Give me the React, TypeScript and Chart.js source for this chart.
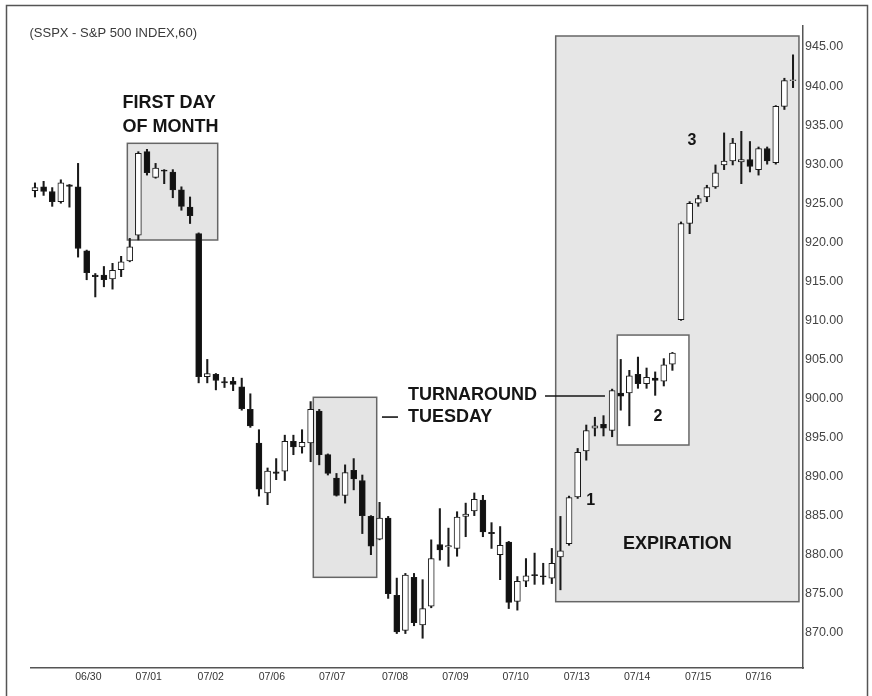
import React, { useEffect, useRef } from "react";
import { Chart, registerables } from "chart.js";

Chart.register(...registerables);

// ---- data ----
const dayLabels = ["06/30", "07/01", "07/02", "07/06", "07/07", "07/08", "07/09", "07/10", "07/13", "07/14", "07/15", "07/16"];
// bar-index position of each date label on the x axis
const dayTickPos = [6.2, 13.2, 20.4, 27.5, 34.5, 41.8, 48.8, 55.8, 62.9, 69.9, 77.0, 84.0];

const yTicks = [870, 875, 880, 885, 890, 895, 900, 905, 910, 915, 920, 925, 930, 935, 940, 945];

const opens = [
  926.6, 927.1, 926.5, 925.2, 927.35, 927.1, 918.9, 915.8, 915.8, 915.3,
  916.5, 917.6, 920.9, 931.6, 928.3, 929.25, 929.0, 926.7, 924.5, 921.1,
  902.8, 903.1, 902.15, 902.2, 901.5, 898.6, 894.3, 887.9, 890.6, 890.7,
  894.5, 893.8, 894.3, 898.4, 892.8, 889.8, 887.6, 890.8, 889.5, 884.9,
  882.0, 884.7, 874.8, 870.3, 877.1, 871.0, 873.4, 881.3, 881.0, 880.8,
  884.9, 885.6, 887.0, 882.85, 880.0, 881.6, 874.0, 876.6, 877.45, 877.3,
  877.0, 879.7, 881.4, 887.4, 893.3, 896.2, 896.7, 895.9, 900.7, 900.7,
  903.1, 901.9, 902.6, 902.2, 904.4, 910.1, 922.4, 925.0, 925.8, 927.1,
  929.9, 930.4, 930.3, 930.6, 929.3, 932.0, 930.2, 937.4, 940.7,
];
const highs = [
  927.6, 927.8, 927.0, 928.0, 927.4, 930.1, 919.0, 916.0, 916.9, 917.3,
  918.2, 920.5, 931.6, 931.9, 930.1, 929.3, 929.3, 927.1, 925.8, 921.2,
  905.0, 903.2, 902.7, 902.7, 902.6, 900.6, 896.0, 891.1, 892.3, 895.3,
  895.3, 896.0, 899.6, 898.6, 892.9, 890.4, 891.5, 892.3, 890.2, 885.0,
  886.7, 884.9, 877.0, 877.6, 877.6, 876.8, 881.9, 885.9, 883.4, 885.5,
  886.6, 887.9, 887.6, 884.1, 883.6, 881.7, 877.2, 879.5, 880.2, 878.9,
  880.8, 884.9, 887.5, 893.6, 896.6, 897.6, 897.8, 901.2, 905.0, 903.6,
  905.3, 903.9, 903.4, 905.1, 905.9, 922.6, 925.2, 926.0, 927.3, 929.9,
  934.0, 933.3, 934.2, 932.9, 932.2, 932.2, 937.5, 941.0, 944.0,
];
const lows = [
  925.8, 926.0, 924.6, 925.0, 924.5, 918.1, 915.2, 913.0, 914.3, 914.0,
  915.6, 917.5, 920.3, 928.6, 928.2, 927.5, 925.7, 924.1, 922.4, 902.0,
  902.0, 901.1, 901.4, 901.0, 898.5, 896.3, 887.5, 886.4, 889.6, 889.5,
  892.8, 893.0, 891.9, 891.5, 890.2, 887.5, 886.6, 888.3, 882.7, 880.0,
  881.9, 874.4, 869.9, 869.9, 870.9, 869.3, 873.2, 879.3, 878.5, 879.8,
  882.3, 885.0, 882.3, 880.8, 876.8, 873.1, 872.9, 875.9, 876.2, 876.2,
  876.3, 875.5, 881.2, 887.2, 892.1, 895.2, 895.2, 895.1, 898.5, 896.5,
  901.3, 901.3, 900.4, 901.6, 903.6, 910.0, 921.1, 924.6, 925.2, 926.9,
  929.3, 929.9, 927.5, 929.0, 928.6, 930.0, 930.0, 937.0, 939.8,
];
const closes = [
  927.0, 926.5, 925.2, 927.6, 927.15, 919.2, 916.1, 915.6, 915.2, 916.4,
  917.5, 919.4, 931.4, 928.9, 929.5, 929.1, 926.7, 924.6, 923.4, 902.8,
  903.2, 902.3, 902.0, 901.8, 898.7, 896.5, 888.4, 890.7, 890.4, 894.5,
  893.8, 894.4, 898.6, 892.8, 890.4, 887.6, 890.5, 889.7, 885.0, 881.1,
  884.7, 875.0, 870.1, 877.4, 871.3, 873.1, 879.5, 880.6, 881.15, 884.8,
  885.2, 887.1, 882.9, 882.7, 881.2, 873.9, 876.6, 877.3, 877.3, 877.15,
  878.9, 880.5, 887.3, 893.1, 895.9, 896.5, 896.2, 901.0, 900.3, 902.9,
  901.9, 902.7, 902.3, 904.3, 905.8, 922.4, 925.0, 925.6, 927.0, 928.9,
  930.4, 932.7, 930.6, 929.7, 932.0, 930.4, 937.4, 940.7, 940.8,
];

// annotation boxes in data units (bar index, price)
const boxX0 = [10.72, 32.31, 60.45, 67.6];
const boxX1 = [21.21, 39.67, 88.69, 75.92];
const boxY0 = [920.29, 877.1, 873.98, 894.04];
const boxY1 = [932.67, 900.15, 946.41, 908.12];
const boxFill = ["#e4e4e4", "#e4e4e4", "#e6e6e6", "#ffffff"];

const noteText = ["FIRST DAY", "OF MONTH", "TURNAROUND", "TUESDAY", "EXPIRATION", "1", "2", "3"];
const noteX = [10.15, 10.15, 43.3, 43.3, 68.26, 64.51, 72.32, 76.27];
const noteY = [937.83, 934.8, 900.44, 897.62, 881.3, 886.87, 897.67, 933.0];

const leaderX0 = [59.21, 40.28];
const leaderX1 = [66.17, 42.14];
const leaderY = [900.31, 897.62];

const TITLE = "(SSPX - S&P 500 INDEX,60)";

const idx = opens.map((_, i) => i);

const annotate = {
  id: "annotate",
  beforeDraw(chart: any) {
    const ctx = chart.ctx;
    ctx.save();
    ctx.strokeStyle = "#555";
    ctx.lineWidth = 1.5;
    ctx.strokeRect(6.5, 5.5, 861, 760);
    ctx.restore();
  },
  beforeDatasetsDraw(chart: any) {
    const { ctx, scales } = chart;
    const x = scales.x, y = scales.y;
    ctx.save();
    for (let i = 0; i < boxX0.length; i++) {
      const l = x.getPixelForValue(boxX0[i]);
      const r = x.getPixelForValue(boxX1[i]);
      const t = y.getPixelForValue(boxY1[i]);
      const b = y.getPixelForValue(boxY0[i]);
      ctx.fillStyle = boxFill[i];
      ctx.fillRect(l, t, r - l, b - t);
      ctx.strokeStyle = "#666";
      ctx.lineWidth = 1.5;
      ctx.strokeRect(l, t, r - l, b - t);
    }
    ctx.restore();
  },
  afterDatasetsDraw(chart: any) {
    const { ctx, scales } = chart;
    const x = scales.x, y = scales.y;
    ctx.save();
    ctx.fillStyle = "#151515";
    ctx.textBaseline = "middle";
    for (let i = 0; i < noteText.length; i++) {
      const single = noteText[i].length === 1;
      ctx.font = single ? "bold 16px 'Liberation Sans', Arial, sans-serif" : "bold 18px 'Liberation Sans', Arial, sans-serif";
      ctx.textAlign = single ? "center" : "left";
      ctx.fillText(noteText[i], x.getPixelForValue(noteX[i]), y.getPixelForValue(noteY[i]));
    }
    ctx.strokeStyle = "#151515";
    ctx.lineWidth = 1.6;
    for (let i = 0; i < leaderX0.length; i++) {
      const yy = y.getPixelForValue(leaderY[i]);
      ctx.beginPath();
      ctx.moveTo(x.getPixelForValue(leaderX0[i]), yy);
      ctx.lineTo(x.getPixelForValue(leaderX1[i]), yy);
      ctx.stroke();
    }
    ctx.font = "13px 'Liberation Sans', Arial, sans-serif";
    ctx.fillStyle = "#3a3a3a";
    ctx.textAlign = "left";
    ctx.fillText(TITLE, 29.5, 33);
    ctx.restore();
  },
};

export default function App() {
  const ref = useRef<HTMLCanvasElement | null>(null);

  useEffect(() => {
    if (!ref.current) return;
    const bodyColors = opens.map((o, i) => (closes[i] >= o ? "#ffffff" : "#111111"));
    const chart = new Chart(ref.current, {
      type: "bar",
      data: {
        datasets: [
          {
            label: "body",
            data: idx.map((i) => ({ x: i, y: [opens[i], closes[i]] })) as any,
            backgroundColor: bodyColors,
            borderColor: "#1a1a1a",
            borderWidth: 1,
            borderSkipped: false,
            barThickness: 6,
            grouped: false,
            order: 0,
          } as any,
          {
            label: "wick",
            data: idx.map((i) => ({ x: i, y: [lows[i], highs[i]] })) as any,
            backgroundColor: "#1a1a1a",
            borderWidth: 0,
            barThickness: 1.4,
            grouped: false,
            order: 1,
          } as any,
        ],
      },
      options: {
        animation: false,
        responsive: false,
        devicePixelRatio: 1,
        layout: { padding: { left: 31, top: 26, right: 0, bottom: 0 } },
        plugins: { legend: { display: false }, tooltip: { enabled: false }, title: { display: false } },
        scales: {
          x: {
            type: "linear",
            offset: false,
            min: -0.464,
            max: 89.16,
            grid: { display: false, drawTicks: false },
            border: { display: true, color: "#555", width: 1.5 },
            afterBuildTicks: (axis: any) => {
              axis.ticks = dayTickPos.map((v) => ({ value: v }));
            },
            afterFit: (s: any) => {
              s.height = 28;
            },
            ticks: {
              autoSkip: false,
              maxRotation: 0,
              padding: 3,
              color: "#333",
              font: { family: "'Liberation Sans', Arial, sans-serif", size: 10.5 },
              callback: (_v: any, i: number) => dayLabels[i],
            },
          },
          y: {
            type: "linear",
            position: "right",
            min: 865.49,
            max: 947.69,
            grid: { display: false, drawTicks: false },
            border: { display: true, color: "#555", width: 1.5 },
            afterBuildTicks: (axis: any) => {
              axis.ticks = yTicks.map((v) => ({ value: v }));
            },
            afterFit: (s: any) => {
              s.width = 69;
            },
            ticks: {
              padding: 2,
              color: "#444",
              font: { family: "'Liberation Sans', Arial, sans-serif", size: 12.5 },
              callback: (v: any) => Number(v).toFixed(2),
            },
          },
        },
      } as any,
      plugins: [annotate],
    });
    return () => chart.destroy();
  }, []);

  return (
    <div style={{ position: "fixed", left: 0, top: 0, width: 872, height: 696, background: "#fff" }}>
      <canvas ref={ref} width={872} height={696} style={{ width: 872, height: 696, display: "block" }} />
    </div>
  );
}
